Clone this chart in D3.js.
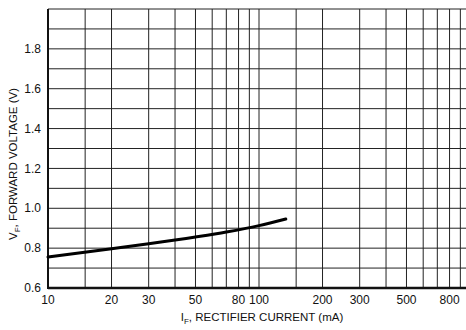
<!DOCTYPE html>
<html lang="en">
<head>
    <meta charset="UTF-8">
    <title>Forward Voltage vs Rectifier Current</title>
    <script src="https://d3js.org/d3.v7.min.js"></script>
    <style>
        body { margin: 0; background: #fff; }
        .tick-label {
            font: 12px "Liberation Sans Narrow", "Liberation Sans", Arial, sans-serif;
            fill: #111;
        }
        .axis-title {
            font: 11.5px "Liberation Sans Narrow", "Liberation Sans", Arial, sans-serif;
            fill: #111;
        }
        .grid line { stroke: #222; stroke-width: 1; }
    </style>
</head>
<body>
    <script>
        // Data
        const currentMA = [10, 20, 30, 50, 70, 100, 134];
        const forwardV = [0.755, 0.797, 0.822, 0.856, 0.881, 0.913, 0.946];

        // Grid and tick labels
        const xGrid = [10, 15, 20, 30, 40, 50, 60, 70, 80, 90, 100, 150, 200, 300, 400, 500, 600, 700, 800, 900];
        const xLabels = [10, 20, 30, 50, 80, 100, 200, 300, 500, 800];
        const yGrid = [0.6, 0.7, 0.8, 0.9, 1.0, 1.1, 1.2, 1.3, 1.4, 1.5, 1.6, 1.7, 1.8, 1.9, 2.0];
        const yLabels = [0.6, 0.8, 1.0, 1.2, 1.4, 1.6, 1.8];

        const W = 466, H = 330;
        const plotLeft = 48, plotTop = 9, plotBottom = 288;

        const svg = d3.select("body")
            .append("svg")
            .attr("width", W)
            .attr("height", H);

        // Log x scale: one decade is ~211px, so the chart runs off the right edge
        const x = d3.scaleLog()
            .domain([10, 1000])
            .range([plotLeft, plotLeft + 422]);

        const y = d3.scaleLinear()
            .domain([0.6, 2.0])
            .range([plotBottom, plotTop]);

        // Grid lines
        const grid = svg.append("g").attr("class", "grid");
        grid.selectAll("line.v")
            .data(xGrid)
            .enter()
            .append("line")
            .attr("x1", d => x(d))
            .attr("x2", d => x(d))
            .attr("y1", y(0.6))
            .attr("y2", y(2.0));
        grid.selectAll("line.h")
            .data(yGrid)
            .enter()
            .append("line")
            .attr("x1", x(10))
            .attr("x2", W)
            .attr("y1", d => y(d))
            .attr("y2", d => y(d));

        // Heavier frame on left and bottom
        svg.append("line")
            .attr("x1", x(10)).attr("x2", x(10))
            .attr("y1", y(2.0)).attr("y2", y(0.6) + 1)
            .attr("stroke", "#111").attr("stroke-width", 2);
        svg.append("line")
            .attr("x1", x(10)).attr("x2", W)
            .attr("y1", y(0.6)).attr("y2", y(0.6))
            .attr("stroke", "#111").attr("stroke-width", 2.5);

        // Tick labels
        svg.selectAll("text.yl")
            .data(yLabels)
            .enter()
            .append("text")
            .attr("class", "tick-label")
            .attr("x", plotLeft - 7)
            .attr("y", d => y(d))
            .attr("dy", "0.35em")
            .attr("text-anchor", "end")
            .text(d => d.toFixed(1));

        svg.selectAll("text.xl")
            .data(xLabels)
            .enter()
            .append("text")
            .attr("class", "tick-label")
            .attr("x", d => x(d))
            .attr("y", 304)
            .attr("text-anchor", "middle")
            .text(d => d);

        // Axis titles
        const xt = svg.append("text")
            .attr("class", "axis-title")
            .attr("x", 262)
            .attr("y", 321)
            .attr("text-anchor", "middle");
        xt.append("tspan").text("I");
        xt.append("tspan").attr("font-size", "8px").attr("dy", 3).text("F");
        xt.append("tspan").attr("dy", -3).text(", RECTIFIER CURRENT (mA)");

        const yt = svg.append("text")
            .attr("class", "axis-title")
            .attr("transform", "translate(17,164) rotate(-90)")
            .attr("text-anchor", "middle");
        yt.append("tspan").text("V");
        yt.append("tspan").attr("font-size", "8px").attr("dy", 3).text("F");
        yt.append("tspan").attr("dy", -3).text(", FORWARD VOLTAGE (V)");

        // Curve
        const pts = currentMA.map((c, i) => [c, forwardV[i]]);
        svg.append("path")
            .datum(pts)
            .attr("fill", "none")
            .attr("stroke", "#000")
            .attr("stroke-width", 3)
            .attr("stroke-linecap", "round")
            .attr("d", d3.line()
                .x(d => x(d[0]))
                .y(d => y(d[1]))
                .curve(d3.curveMonotoneX));
    </script>
</body>
</html>
